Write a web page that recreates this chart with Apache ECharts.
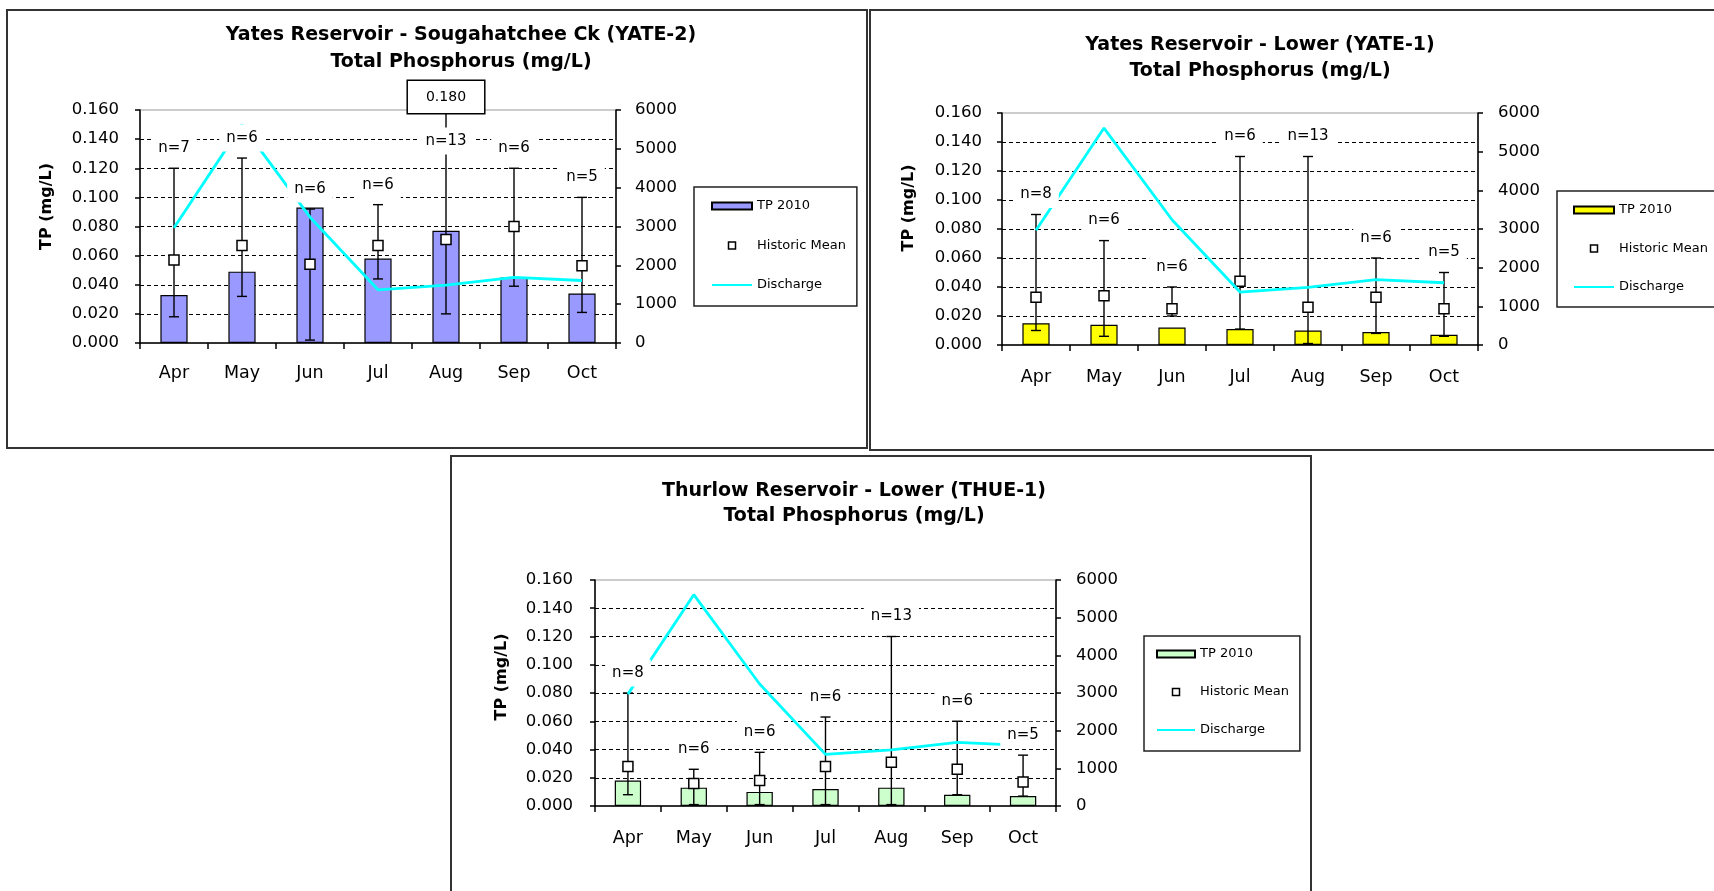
<!DOCTYPE html>
<html><head><meta charset="utf-8">
<script src="https://cdn.jsdelivr.net/npm/echarts@6/dist/echarts.min.js"></script>
<style>
html,body{margin:0;padding:0;width:1714px;height:891px;overflow:hidden;background:#fff;position:relative;}
.chart{position:absolute;}
.frame{position:absolute;border:2px solid #333;box-sizing:border-box;pointer-events:none;}
</style></head><body>
<div class="chart" id="c1" style="left:7px;top:10px;width:860px;height:438px"></div>
<div class="frame" style="left:6px;top:9px;width:862px;height:440px"></div>
<div class="chart" id="c2" style="left:870px;top:10px;width:900px;height:440px"></div>
<div class="frame" style="left:869px;top:9px;width:900px;height:442px"></div>
<div class="chart" id="c3" style="left:451px;top:456px;width:860px;height:435px"></div>
<div class="frame" style="left:450px;top:455px;width:862px;height:445px"></div>
<script>
// ---------------- data ----------------
const months = ['Apr', 'May', 'Jun', 'Jul', 'Aug', 'Sep', 'Oct'];
const tpTicks = [0, 0.02, 0.04, 0.06, 0.08, 0.10, 0.12, 0.14, 0.16];
const dischargeTicks = [0, 1000, 2000, 3000, 4000, 5000, 6000];
const discharge = [2970, 5610, 3240, 1370, 1490, 1690, 1610];

// Yates Reservoir - Sougahatchee Ck (YATE-2)
const yate2Tp2010 = [0.033, 0.049, 0.093, 0.058, 0.077, 0.045, 0.034];
const yate2Mean   = [0.057, 0.067, 0.054, 0.067, 0.071, 0.080, 0.053];
const yate2Min    = [0.018, 0.032, 0.002, 0.044, 0.020, 0.039, 0.021];
const yate2Max    = [0.120, 0.127, 0.092, 0.095, 0.180, 0.120, 0.100];
const yate2N      = [7, 6, 6, 6, 13, 6, 5];

// Yates Reservoir - Lower (YATE-1)
const yate1Tp2010 = [0.015, 0.014, 0.012, 0.011, 0.010, 0.009, 0.007];
const yate1Mean   = [0.033, 0.034, 0.025, 0.044, 0.026, 0.033, 0.025];
const yate1Min    = [0.010, 0.006, 0.020, 0.011, 0.001, 0.008, 0.006];
const yate1Max    = [0.090, 0.072, 0.040, 0.130, 0.130, 0.060, 0.050];
const yate1N      = [8, 6, 6, 6, 13, 6, 5];

// Thurlow Reservoir - Lower (THUE-1)
const thue1Tp2010 = [0.018, 0.013, 0.010, 0.012, 0.013, 0.008, 0.007];
const thue1Mean   = [0.028, 0.016, 0.018, 0.028, 0.031, 0.026, 0.017];
const thue1Min    = [0.008, 0.001, 0.001, 0.001, 0.001, 0.008, 0.007];
const thue1Max    = [0.080, 0.026, 0.038, 0.063, 0.120, 0.060, 0.036];
const thue1N      = [8, 6, 6, 6, 13, 6, 5];

// ---------------- chart builder ----------------
const FONT = 'DejaVu Sans';
const TPMAX = tpTicks[tpTicks.length - 1];

function renderWhisker(params, api) {
  const i = api.value(0), lo = api.value(1), hi = api.value(2);
  const over = hi > TPMAX;
  const pTop = api.coord([i, over ? TPMAX : hi]);
  const pBot = api.coord([i, lo]);
  const x = pTop[0], cap = 5;
  const st = {stroke: '#000', lineWidth: 1.4};
  const ch = [
    {type: 'line', shape: {x1: x, y1: pBot[1], x2: x, y2: pTop[1]}, style: st},
    {type: 'line', shape: {x1: x - cap, y1: pBot[1], x2: x + cap, y2: pBot[1]}, style: st}
  ];
  if (!over) {
    ch.push({type: 'line', shape: {x1: x - cap, y1: pTop[1], x2: x + cap, y2: pTop[1]}, style: st});
  } else {
    ch.push({type: 'text', z2: 10, style: {text: hi.toFixed(3), x: x, y: pTop[1] - 13, align: 'center',
      verticalAlign: 'middle', fontSize: 14, fontFamily: FONT, fill: '#000', backgroundColor: '#fff',
      borderColor: '#000', borderWidth: 1.5, padding: [9, 18]}});
  }
  return {type: 'group', children: ch};
}

function renderN(params, api) {
  const i = api.value(0), hi = api.value(1), n = api.value(2);
  const top = api.coord([i, TPMAX])[1];
  const p = api.coord([i, Math.min(hi, TPMAX)]);
  const y = hi > TPMAX ? top + 31 : p[1] - 20;
  return {type: 'text', style: {text: 'n=' + n, x: p[0], y: y, align: 'center', verticalAlign: 'middle',
    fontSize: 15, fontFamily: FONT, fill: '#000', backgroundColor: '#fff', padding: [6, 7]}};
}

function buildOption(d, L) {
  const whiskerData = months.map((m, i) => [i, d.lo[i], d.hi[i]]);
  const nData = months.map((m, i) => [i, d.hi[i], d.n[i]]);
  const splitColors = tpTicks.map((t, k) => (k === 0 || k === tpTicks.length - 1) ? 'rgba(0,0,0,0)' : '#000');
  const axisLine = {show: true, lineStyle: {color: '#000', width: 1.5}};
  return {
    animation: false,
    textStyle: {fontFamily: FONT, color: '#000'},
    title: {
      text: d.title, left: L.titleX, top: L.titleTop, textAlign: 'center', padding: 0,
      textStyle: {fontFamily: FONT, fontSize: 19, fontWeight: 'bold', color: '#000', lineHeight: L.titleLH}
    },
    legend: {
      orient: 'vertical', left: L.legLeft, top: L.legTop, padding: L.legPad, itemGap: L.legGap,
      itemWidth: L.legIconW, itemHeight: 7, backgroundColor: '#fff', borderColor: '#222', borderWidth: 1.5,
      borderRadius: 0, selectedMode: false, symbolKeepAspect: true,
      textStyle: {fontFamily: FONT, fontSize: 13, color: '#000', lineHeight: 14},
      data: [
        {name: 'TP 2010', icon: 'rect'},
        {name: 'Historic Mean', icon: 'path://M0,0L10,0L10,10L0,10Z',
          itemStyle: {color: '#fff', borderColor: '#000', borderWidth: 1.5}},
        {name: 'Discharge', icon: 'path://M0,0L20,0L20,1L0,1Z',
          itemStyle: {color: '#00ffff', borderWidth: 0}}
      ]
    },
    grid: {left: L.gl, top: L.gt, width: L.gw, height: L.gh, show: true, borderColor: '#999', borderWidth: 1,
      backgroundColor: 'rgba(0,0,0,0)', outerBoundsMode: 'none', containLabel: false},
    xAxis: {
      type: 'category', data: months, boundaryGap: true,
      axisLine: axisLine,
      axisTick: {show: true, length: 6, alignWithLabel: false, lineStyle: {color: '#000', width: 1.5}},
      axisLabel: {fontSize: 17.5, color: '#000', margin: L.xm, lineHeight: 18, fontFamily: FONT},
      splitLine: {show: false}
    },
    yAxis: [
      {
        type: 'value', min: tpTicks[0], max: TPMAX, interval: tpTicks[1] - tpTicks[0], position: 'left',
        name: 'TP (mg/L)', nameLocation: 'middle', nameGap: L.ng, nameRotate: 90,
        nameTextStyle: {fontFamily: FONT, fontSize: 16, fontWeight: 'bold', color: '#000', padding: [0, 0, 0, L.np]},
        axisLine: axisLine,
        axisTick: {show: true, length: 5, lineStyle: {color: '#000', width: 1.5}},
        axisLabel: {formatter: v => v.toFixed(3), fontSize: 16.5, color: '#000', margin: L.lm, fontFamily: FONT},
        splitLine: {show: true, lineStyle: {color: splitColors, type: [4, 3], width: 1}}
      },
      {
        type: 'value', min: dischargeTicks[0], max: dischargeTicks[dischargeTicks.length - 1],
        interval: dischargeTicks[1] - dischargeTicks[0], position: 'right',
        axisLine: axisLine,
        axisTick: {show: true, length: 5, lineStyle: {color: '#000', width: 1.5}},
        axisLabel: {formatter: v => String(Math.round(v)), fontSize: 16.5, color: '#000', margin: L.rm, fontFamily: FONT},
        splitLine: {show: false}
      }
    ],
    series: [
      {name: 'TP 2010', type: 'bar', data: d.tp, barWidth: '40%',
        itemStyle: {color: d.color, borderColor: '#000', borderWidth: 1.2}, z: 2},
      {type: 'custom', data: whiskerData, renderItem: renderWhisker, encode: {x: 0, y: [1, 2]}, z: 3, silent: true},
      {name: 'Historic Mean', type: 'scatter', data: d.mean, symbol: 'rect', symbolSize: 10,
        itemStyle: {color: '#fff', borderColor: '#000', borderWidth: 1.5, opacity: 1}, z: 4},
      {name: 'Discharge', type: 'line', yAxisIndex: 1, data: discharge, symbol: 'none', showSymbol: false,
        lineStyle: {color: '#00ffff', width: 2.8}, itemStyle: {color: '#00ffff'}, z: 5},
      {type: 'custom', data: nData, renderItem: renderN, encode: {x: 0, y: 1}, z: 6, silent: true}
    ]
  };
}

const panels = [
  {id: 'c1', d: {title: 'Yates Reservoir - Sougahatchee Ck (YATE-2)\nTotal Phosphorus (mg/L)', color: '#9999ff',
      tp: yate2Tp2010, mean: yate2Mean, lo: yate2Min, hi: yate2Max, n: yate2N},
    L: {titleX: 454, titleTop: 12, titleLH: 27, legLeft: 687, legTop: 177, legPad: [12, 11, 14, 17], legGap: 25.5,
      legIconW: 40, gl: 133, gt: 100, gw: 476, gh: 233, xm: 21, lm: 21, rm: 19, ng: 85, np: 40}},
  {id: 'c2', d: {title: 'Yates Reservoir - Lower (YATE-1)\nTotal Phosphorus (mg/L)', color: '#ffff00',
      tp: yate1Tp2010, mean: yate1Mean, lo: yate1Min, hi: yate1Max, n: yate1N},
    L: {titleX: 390, titleTop: 22, titleLH: 26, legLeft: 687, legTop: 181, legPad: [12, 11, 13, 16], legGap: 24.5,
      legIconW: 40, gl: 132, gt: 103, gw: 476, gh: 232, xm: 23, lm: 20, rm: 20, ng: 85, np: 42}},
  {id: 'c3', d: {title: 'Thurlow Reservoir - Lower (THUE-1)\nTotal Phosphorus (mg/L)', color: '#ccffcc',
      tp: thue1Tp2010, mean: thue1Mean, lo: thue1Min, hi: thue1Max, n: thue1N},
    L: {titleX: 403, titleTop: 23, titleLH: 25, legLeft: 693, legTop: 180, legPad: [11, 11, 14, 12], legGap: 24,
      legIconW: 38, gl: 144, gt: 124, gw: 461, gh: 226, xm: 23, lm: 22, rm: 20, ng: 85, np: 32}}
];

panels.forEach(p => {
  const chart = echarts.init(document.getElementById(p.id), null, {renderer: 'canvas'});
  chart.setOption(buildOption(p.d, p.L));
});
</script>
</body></html>
